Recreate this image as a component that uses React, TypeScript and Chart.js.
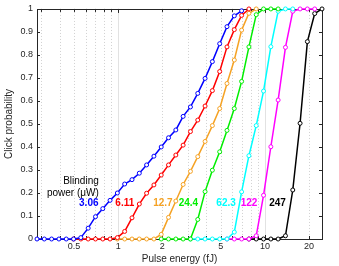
import React, { useEffect, useRef } from "react";
import { Chart, registerables } from "chart.js";

Chart.register(...registerables);

// Pulse energy grid (fJ), shared by all series
const energies = [
  0.280, 0.314, 0.352, 0.395, 0.443, 0.497, 0.557, 0.625, 0.701, 0.786,
  0.881, 0.988, 1.108, 1.243, 1.394, 1.563, 1.753, 1.966, 2.205, 2.473,
  2.773, 3.110, 3.488, 3.912, 4.387, 4.920, 5.518, 6.189, 6.941, 7.784,
  8.730, 9.791, 10.98, 12.31, 13.81, 15.49, 17.37, 19.48, 21.85, 24.50,
];

// Blinding powers (µW) and their colours
const powers = ["3.06", "6.11", "12.7", "24.4", "62.3", "122", "247"];
const colors = ["#0000ff", "#ff0000", "#f5a224", "#00ee00", "#00ffff", "#ff00ff", "#000000"];

// index into energies where each series starts
const starts = [0, 5, 11, 17, 21, 26, 29];

// click probabilities
const p306 = [0, 0, 0, 0, 0, 0, 0.006, 0.047, 0.097, 0.132, 0.168, 0.2, 0.239, 0.258, 0.286, 0.322, 0.36, 0.4, 0.44, 0.474, 0.533, 0.574, 0.633, 0.698, 0.771, 0.849, 0.923, 0.97, 0.992];
const p611 = [0, 0, 0, 0, 0, 0, 0.006, 0.033, 0.092, 0.152, 0.199, 0.235, 0.278, 0.322, 0.365, 0.408, 0.467, 0.517, 0.578, 0.645, 0.728, 0.835, 0.91, 0.972, 1.0];
const p127 = [0, 0, 0, 0, 0, 0, 0.02, 0.094, 0.165, 0.237, 0.294, 0.358, 0.424, 0.493, 0.567, 0.676, 0.778, 0.908, 0.981, 1.0];
const p244 = [0, 0, 0, 0, 0, 0.085, 0.206, 0.299, 0.379, 0.472, 0.567, 0.685, 0.835, 0.975, 1, 1, 1];
const p623 = [0, 0, 0, 0, 0, 0, 0.03, 0.205, 0.362, 0.493, 0.643, 0.836, 0.99, 1, 1];
const p122 = [0, 0, 0, 0, 0.014, 0.19, 0.401, 0.604, 0.833, 0.99, 1, 1, 1];
const p247 = [0, 0, 0, 0, 0, 0.014, 0.213, 0.503, 0.858, 0.98, 1];

const series = [p306, p611, p127, p244, p623, p122, p247];

// annotation positions (data coords)
const labelX = [0.631, 1.11, 2.02, 3.01, 5.44, 7.8, 12.2];
const labelY = 0.154;
const legendTitle = ["Blinding", "power (\u03bcW)"];
const legendTitleX = 0.738;
const legendTitleY = [0.251, 0.2];

// axis ticks
const xGridTicks = [0.3, 0.4, 0.5, 0.6, 0.7, 0.8, 0.9, 1, 2, 3, 4, 5, 6, 7, 8, 9, 10, 20];
const xMajor = [1, 10];
const xLabelTicks = [0.5, 1, 2, 5, 10, 20];
const yTicks = [0, 0.1, 0.2, 0.3, 0.4, 0.5, 0.6, 0.7, 0.8, 0.9, 1];

const FONT = "'Liberation Sans', Arial, Helvetica, sans-serif";

const axesPlugin = {
  id: "matlabAxes",
  beforeDatasetsDraw(chart: any) {
    const { ctx, chartArea: a, scales } = chart;
    const x = scales.x;
    const y = scales.y;
    ctx.save();
    ctx.lineWidth = 1;
    // vertical grid
    for (const v of xGridTicks) {
      const px = Math.round(x.getPixelForValue(v)) + 0.5;
      const major = xMajor.includes(v);
      ctx.strokeStyle = major ? "#e2e2e2" : "#d0d0d0";
      ctx.setLineDash(major ? [] : [1, 2]);
      ctx.beginPath();
      ctx.moveTo(px, a.top);
      ctx.lineTo(px, a.bottom);
      ctx.stroke();
    }
    ctx.setLineDash([]);
    ctx.strokeStyle = "#262626";
    // frame
    ctx.strokeRect(Math.round(a.left) + 0.5, Math.round(a.top) + 0.5, Math.round(a.right - a.left), Math.round(a.bottom - a.top));
    // x ticks (inward, top and bottom)
    for (const v of xGridTicks) {
      const px = Math.round(x.getPixelForValue(v)) + 0.5;
      const len = xMajor.includes(v) ? 4 : 3;
      ctx.beginPath();
      ctx.moveTo(px, a.bottom);
      ctx.lineTo(px, a.bottom - len);
      ctx.moveTo(px, a.top);
      ctx.lineTo(px, a.top + len);
      ctx.stroke();
    }
    // y ticks (inward, left and right)
    for (const v of yTicks) {
      const py = Math.round(y.getPixelForValue(v)) + 0.5;
      ctx.beginPath();
      ctx.moveTo(a.left, py);
      ctx.lineTo(a.left + 3, py);
      ctx.moveTo(a.right, py);
      ctx.lineTo(a.right - 3, py);
      ctx.stroke();
    }
    ctx.restore();
  },
  afterDatasetsDraw(chart: any) {
    const { ctx, chartArea: a, scales } = chart;
    const x = scales.x;
    const y = scales.y;
    ctx.save();
    // axis titles
    ctx.fillStyle = "#262626";
    ctx.font = `10px ${FONT}`;
    ctx.textAlign = "center";
    ctx.textBaseline = "middle";
    ctx.fillText("Pulse energy (fJ)", (a.left + a.right) / 2, 259.5);
    ctx.save();
    ctx.translate(9.5, (a.top + a.bottom) / 2);
    ctx.rotate(-Math.PI / 2);
    ctx.fillText("Click probability", 0, 0);
    ctx.restore();
    // legend title
    ctx.textAlign = "right";
    ctx.fillStyle = "#000000";
    legendTitle.forEach((t, i) => {
      ctx.fillText(t, x.getPixelForValue(legendTitleX), y.getPixelForValue(legendTitleY[i]));
    });
    // power labels
    ctx.font = `bold 10px ${FONT}`;
    ctx.textAlign = "center";
    powers.forEach((t, i) => {
      ctx.fillStyle = colors[i];
      ctx.fillText(t, x.getPixelForValue(labelX[i]), y.getPixelForValue(labelY));
    });
    ctx.restore();
  },
};

export default function App() {
  const ref = useRef<HTMLCanvasElement | null>(null);

  useEffect(() => {
    if (!ref.current) return;
    const datasets = series.map((vals, si) => ({
      label: powers[si],
      data: vals.map((p, i) => ({ x: energies[starts[si] + i], y: p })),
      borderColor: colors[si],
      backgroundColor: "#ffffff",
      borderWidth: 1.5,
      pointRadius: 2,
      pointBorderWidth: 1,
      pointBackgroundColor: "#ffffff",
      pointBorderColor: colors[si],
      pointStyle: "circle",
      tension: 0,
      clip: false as any,
    }));

    const chart = new Chart(ref.current, {
      type: "line",
      data: { datasets },
      options: {
        animation: false,
        responsive: false,
        maintainAspectRatio: false,
        layout: { padding: { left: 0, right: 17, top: 5, bottom: 0 } },
        plugins: {
          legend: { display: false },
          tooltip: { enabled: false },
        },
        scales: {
          x: {
            type: "logarithmic",
            min: energies[0],
            max: energies[energies.length - 1],
            grid: { display: false, drawTicks: false },
            border: { display: false },
            afterBuildTicks: (scale: any) => {
              scale.ticks = xLabelTicks.map((v) => ({ value: v }));
            },
            afterFit: (scale: any) => {
              scale.height = 27;
            },
            ticks: {
              autoSkip: false,
              maxRotation: 0,
              padding: 3,
              color: "#262626",
              font: { family: FONT, size: 9, lineHeight: 1.1 },
              callback: (v: any) => String(v),
            },
          },
          y: {
            type: "linear",
            min: 0,
            max: 1,
            grid: { display: false, drawTicks: false },
            border: { display: false },
            afterBuildTicks: (scale: any) => {
              scale.ticks = yTicks.map((v) => ({ value: v }));
            },
            afterFit: (scale: any) => {
              scale.width = 37;
            },
            ticks: {
              autoSkip: false,
              padding: 4,
              color: "#262626",
              font: { family: FONT, size: 9, lineHeight: 1.1 },
              callback: (v: any) => (v === 0 ? "0" : v === 1 ? "1" : Number(v).toFixed(1)),
            },
          },
        },
      },
      plugins: [axesPlugin],
    });
    return () => chart.destroy();
  }, []);

  return (
    <div style={{ position: "absolute", left: 0, top: 0, width: 339, height: 266, background: "#fff" }}>
      <canvas ref={ref} width={339} height={266} style={{ display: "block", width: 339, height: 266 }} />
    </div>
  );
}
